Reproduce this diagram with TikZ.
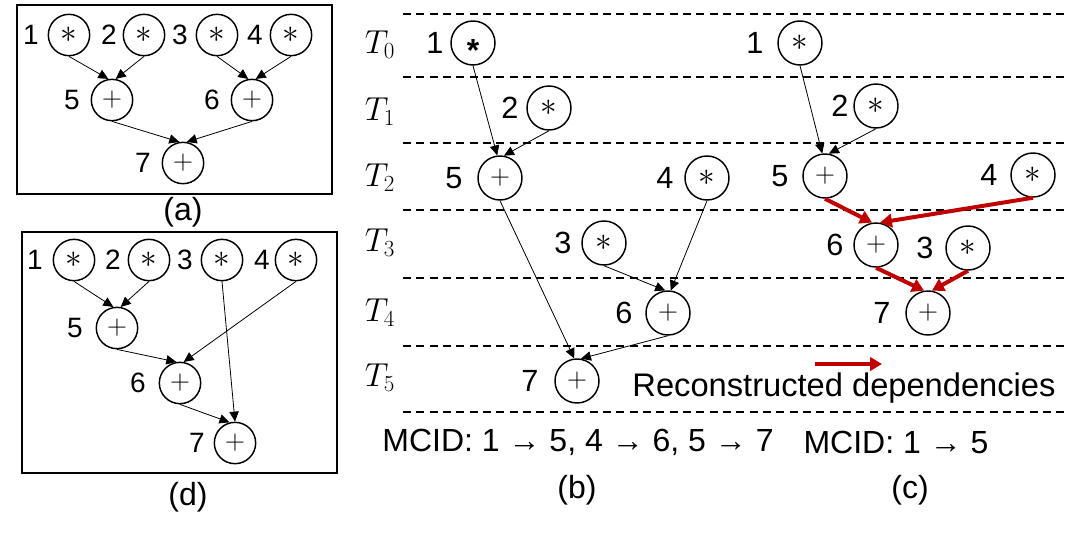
\documentclass[tikz,border=0pt]{standalone}
\usepackage{fontspec}
\setmainfont{Liberation Sans}
\usetikzlibrary{arrows.meta}
\definecolor{dred}{HTML}{C00000}
\newcommand{\boldast}{\raisebox{-13.7pt}[0pt][0pt]{\fontsize{24}{24}\selectfont\textbf{*}}}
\newcommand{\mast}{{\fontsize{27}{27}\selectfont$\ast$}}
\begin{document}
\begin{tikzpicture}[x=0.75pt,y=-0.75pt,
  op/.style={circle,draw,line width=1.1pt,minimum size=31pt,inner sep=0pt,font=\fontsize{21}{21}\selectfont},
  opb/.style={op,minimum size=33pt},
  lab/.style={inner sep=0pt,font=\fontsize{21}{21}\selectfont},
  labb/.style={inner sep=0pt,font=\fontsize{23}{23}\selectfont},
  tlab/.style={inner sep=0pt,font=\fontsize{26}{26}\selectfont},
  txt/.style={inner sep=0pt,font=\fontsize{24}{24}\selectfont},
  conn/.style={line width=0.6pt,-{Triangle[length=7.5pt,width=7pt]}},
  rconn/.style={draw=dred,line width=3pt,-{Triangle[length=9pt,width=10pt]}},
  dline/.style={line width=1.4pt,dash pattern=on 6pt off 4pt},
  frame/.style={line width=1.5pt}
]
\useasboundingbox (0,0) rectangle (1081,536);

% ---------- panel (a) ----------
\draw[frame] (17,5) rectangle (332,194);
\node[op] (a1) at (69,35) {\mast};
\node[op] (a2) at (144,35) {\mast};
\node[op] (a3) at (217,35) {\mast};
\node[op] (a4) at (291,35) {\mast};
\node[op] (a5) at (112,100) {$+$};
\node[op] (a6) at (252,100) {$+$};
\node[op] (a7) at (183,163) {$+$};
\node[lab] (a1l) at (31,35) {1};
\node[lab] (a2l) at (109,35) {2};
\node[lab] (a3l) at (180,35) {3};
\node[lab] (a4l) at (255,35) {4};
\node[lab] (a5l) at (72,100) {5};
\node[lab] (a6l) at (212,100) {6};
\node[lab] (a7l) at (143,163) {7};
\node[txt] (capa) at (183,212) {(a)};
\draw[conn] (a1.south) -- (a5.100);
\draw[conn] (a2.south) -- (a5.80);
\draw[conn] (a3.south) -- (a6.100);
\draw[conn] (a4.south) -- (a6.80);
\draw[conn] (a5.south) -- (a7.100);
\draw[conn] (a6.south) -- (a7.80);

% ---------- panel (d) ----------
\draw[frame] (22,232) rectangle (337,473);
\node[op] (d1) at (74,260) {\mast};
\node[op] (d2) at (149,260) {\mast};
\node[op] (d3) at (222,260) {\mast};
\node[op] (d4) at (296,260) {\mast};
\node[op] (d5) at (117,328) {$+$};
\node[op] (d6) at (180,383) {$+$};
\node[op] (d7) at (235,443) {$+$};
\node[lab] (d1l) at (35,260) {1};
\node[lab] (d2l) at (113,260) {2};
\node[lab] (d3l) at (185,260) {3};
\node[lab] (d4l) at (262,260) {4};
\node[lab] (d5l) at (75,328) {5};
\node[lab] (d6l) at (138,383) {6};
\node[lab] (d7l) at (197,443) {7};
\node[txt] (capd) at (188,497) {(d)};
\draw[conn] (d1.south) -- (d5.100);
\draw[conn] (d2.south) -- (d5.80);
\draw[conn] (d5.south) -- (d6.100);
\draw[conn] (d4.south) -- (d6.80);
\draw[conn] (d3.south) -- (d7.north);
\draw[conn] (d6.south) -- (d7.105);

% ---------- time rows ----------
\foreach \yy in {14,77,143,210,278,346,412}
  \draw[dline] (403,\yy) -- (1068,\yy);
\node[tlab] (t0) at (380,45) {$T_0$};
\node[tlab] (t1) at (380,112) {$T_1$};
\node[tlab] (t2) at (380,178) {$T_2$};
\node[tlab] (t3) at (380,243) {$T_3$};
\node[tlab] (t4) at (380,313) {$T_4$};
\node[tlab] (t5) at (380,378) {$T_5$};

% ---------- panel (b) ----------
\node[opb] (b1) at (473,43) {\boldast};
\node[opb] (b2) at (549,108) {\mast};
\node[opb] (b5) at (500,178) {$+$};
\node[opb] (b4) at (707,178) {\mast};
\node[opb] (b3) at (604,243) {\mast};
\node[opb] (b6) at (668,313) {$+$};
\node[opb] (b7) at (577,381) {$+$};
\node[labb] (b1l) at (435,43) {1};
\node[labb] (b2l) at (510,108) {2};
\node[labb] (b5l) at (454,178) {5};
\node[labb] (b4l) at (665,178) {4};
\node[labb] (b3l) at (563,243) {3};
\node[labb] (b6l) at (624,313) {6};
\node[labb] (b7l) at (530,381) {7};
\draw[conn] (b1.south) -- (b5.97);
\draw[conn] (b2.south) -- (b5.80);
\draw[conn] (b5.south) -- (b7.97);
\draw[conn] (b6.south) -- (b7.80);
\draw[conn] (b3.south) -- (b6.97);
\draw[conn] (b4.south) -- (b6.83);
\node[txt] (mcidb) at (578,442) {MCID: 1 → 5, 4 → 6, 5 → 7};
\node[txt] (capb) at (577,490) {(b)};

% ---------- panel (c) ----------
\node[opb] (c1) at (800,43) {\mast};
\node[opb] (c2) at (876,106) {\mast};
\node[opb] (c5) at (825,176) {$+$};
\node[opb] (c4) at (1033,175) {\mast};
\node[opb] (c6) at (876,245) {$+$};
\node[opb] (c3) at (968,248) {\mast};
\node[opb] (c7) at (928,313) {$+$};
\node[labb] (c1l) at (755,43) {1};
\node[labb] (c2l) at (840,106) {2};
\node[labb] (c5l) at (780,176) {5};
\node[labb] (c4l) at (989,175) {4};
\node[labb] (c6l) at (835,245) {6};
\node[labb] (c3l) at (925,248) {3};
\node[labb] (c7l) at (882,313) {7};
\draw[conn] (c1.south) -- (c5.97);
\draw[conn] (c2.south) -- (c5.80);
\draw[rconn] (c5.south) -- (c6.100);
\draw[rconn] (c4.south) -- (c6.80);
\draw[rconn] (c6.south) -- (c7.100);
\draw[rconn] (c3.south) -- (c7.80);

% legend
\coordinate (lgs) at (815,364);
\coordinate (lge) at (882,364);
\draw[rconn] (lgs) -- (lge);
\node[txt,font=\fontsize{24.5}{24.5}\selectfont] (lgt) at (844,388) {Reconstructed dependencies};
\node[txt] (mcidc) at (896,442) {MCID: 1 → 5};
\node[txt] (capc) at (910,490) {(c)};
\end{tikzpicture}
\end{document}
